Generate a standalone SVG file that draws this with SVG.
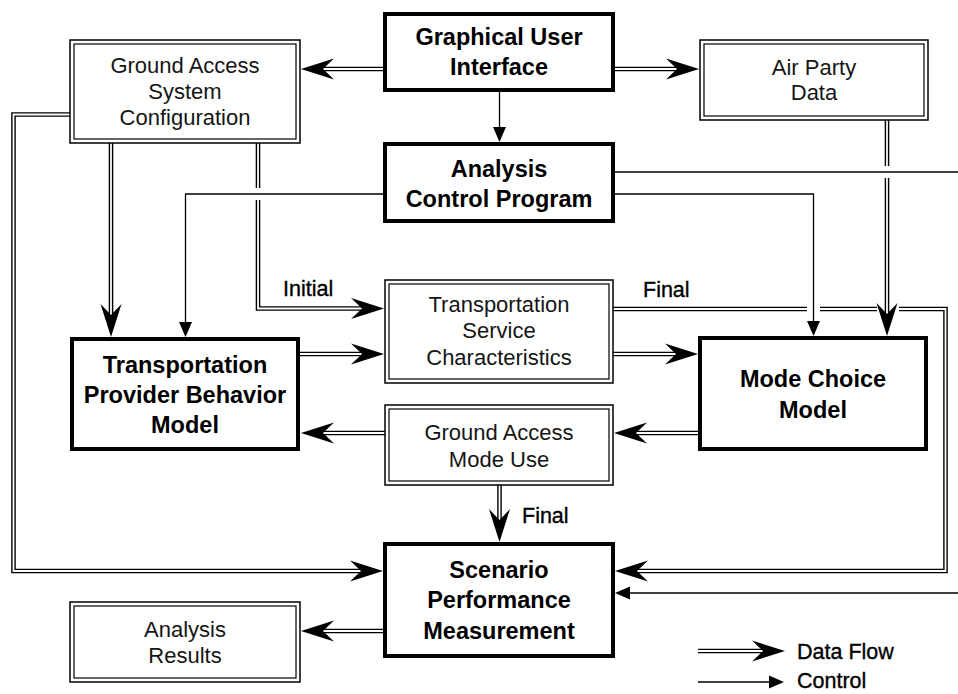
<svg xmlns="http://www.w3.org/2000/svg" xmlns:xlink="http://www.w3.org/1999/xlink" width="958" height="694" viewBox="0 0 958 694">
<style>
.dl{fill:none;stroke:#000;stroke-width:4.6;stroke-linejoin:miter}
.dw{fill:none;stroke:#fff;stroke-width:1.8;stroke-linejoin:miter}
.cl{fill:none;stroke:#000;stroke-width:1.3}
.bx{fill:#fff;stroke:#000;stroke-width:4}
.db{fill:#fff;stroke:#000;stroke-width:1.5}
.dbi{fill:none;stroke:#000;stroke-width:1.2}
text{font-family:"Liberation Sans",Arial,Helvetica,sans-serif}
.t{font-size:22px;text-anchor:middle;fill:#151515}
.tb{font-size:23.5px;font-weight:bold;text-anchor:middle;fill:#000}
.lb{font-size:21.5px;fill:#000;stroke:#000;stroke-width:0.35}
</style>
<defs>
<path id="ah" d="M0,0 L-33,-10.5 L-22,0 L-33,10.5 Z" fill="#000"/>
<path id="ch" d="M0,0 L-15,-6.5 L-15,6.5 Z" fill="#000"/>
</defs>
<rect width="958" height="694" fill="#fff"/>

<g id="connectors">
  <!-- GUI -> Ground Access System Configuration -->
  <path class="dl" d="M383,69 H321"/><path class="dw" d="M383,69 H321"/>
  <use href="#ah" transform="translate(301,69) rotate(180)"/>
  <!-- GUI -> Air Party Data -->
  <path class="dl" d="M615,69 H679"/><path class="dw" d="M615,69 H679"/>
  <use href="#ah" transform="translate(699,69)"/>
  <!-- GUI -> Analysis Control Program -->
  <path class="cl" d="M499.5,92 V130"/>
  <use href="#ch" transform="translate(499.5,142) rotate(90)"/>
  <!-- Air Party -> Mode Choice -->
  <path class="dl" d="M887,120 V166"/><path class="dw" d="M887,120 V166"/>
  <path class="dl" d="M887,178 V316"/><path class="dw" d="M887,178 V316"/>
  <use href="#ah" transform="translate(887,336) rotate(90)"/>
  <!-- ACP -> off right edge -> SPM -->
  <path class="cl" d="M615,172 H958"/>
  <path class="cl" d="M958,593 H628"/>
  <use href="#ch" transform="translate(615,593) rotate(180)"/>
  <!-- ACP -> Mode Choice -->
  <path class="cl" d="M615,194 H813.5 V322"/>
  <use href="#ch" transform="translate(813.5,336) rotate(90)"/>
  <!-- ACP -> Provider -->
  <path class="cl" d="M383,194 H185.5 V323"/>
  <use href="#ch" transform="translate(185.5,337) rotate(90)"/>
  <!-- GASC -> Provider -->
  <path class="dl" d="M111,143 V317"/><path class="dw" d="M111,143 V317"/>
  <use href="#ah" transform="translate(111,337) rotate(90)"/>
  <!-- GASC -> TSC (Initial) -->
  <path class="dl" d="M258,143 V188"/><path class="dw" d="M258,143 V188"/>
  <path class="dl" d="M258,200 V308.5 H363"/><path class="dw" d="M258,200 V308.5 H363"/>
  <use href="#ah" transform="translate(384,308.5)"/>
  <!-- GASC -> SPM -->
  <path class="dl" d="M70,114.5 H13.5 V571 H362"/><path class="dw" d="M70,114.5 H13.5 V571 H362"/>
  <use href="#ah" transform="translate(383,571)"/>
  <!-- Provider -> TSC -->
  <path class="dl" d="M300,354 H363"/><path class="dw" d="M300,354 H363"/>
  <use href="#ah" transform="translate(384,354)"/>
  <!-- TSC -> Mode Choice -->
  <path class="dl" d="M613,354 H678"/><path class="dw" d="M613,354 H678"/>
  <use href="#ah" transform="translate(698,354)"/>
  <!-- TSC -> SPM (Final) -->
  <path class="dl" d="M613,309 H807"/><path class="dw" d="M613,309 H807"/>
  <path class="dl" d="M820,309 H877"/><path class="dw" d="M820,309 H877"/>
  <path class="dl" d="M899,309 H945.5 V571 H636"/><path class="dw" d="M899,309 H945.5 V571 H636"/>
  <use href="#ah" transform="translate(615,571) rotate(180)"/>
  <!-- Mode Choice -> GAMU -->
  <path class="dl" d="M698,433 H634"/><path class="dw" d="M698,433 H634"/>
  <use href="#ah" transform="translate(614,433) rotate(180)"/>
  <!-- GAMU -> Provider -->
  <path class="dl" d="M385,433 H321"/><path class="dw" d="M385,433 H321"/>
  <use href="#ah" transform="translate(301,433) rotate(180)"/>
  <!-- GAMU -> SPM (Final) -->
  <path class="dl" d="M499.5,485 V522"/><path class="dw" d="M499.5,485 V522"/>
  <use href="#ah" transform="translate(499.5,542) rotate(90)"/>
  <!-- SPM -> Analysis Results -->
  <path class="dl" d="M383,631 H321"/><path class="dw" d="M383,631 H321"/>
  <use href="#ah" transform="translate(301,631) rotate(180)"/>
  <!-- labels -->
  <text class="lb" x="283" y="296">Initial</text>
  <text class="lb" x="643" y="297">Final</text>
  <text class="lb" x="522" y="523">Final</text>
</g>

<g id="gui">
  <rect class="bx" x="385" y="14" width="228" height="76"/>
  <text class="tb" x="499" y="45">Graphical User</text>
  <text class="tb" x="499" y="75">Interface</text>
</g>
<g id="acp">
  <rect class="bx" x="385" y="144" width="228" height="77"/>
  <text class="tb" x="499" y="177">Analysis</text>
  <text class="tb" x="499" y="207">Control Program</text>
</g>
<g id="gasc">
  <rect class="db" x="70" y="40" width="230" height="103"/>
  <rect class="dbi" x="74" y="44" width="222" height="95"/>
  <text class="t" x="185" y="73">Ground Access</text>
  <text class="t" x="185" y="99">System</text>
  <text class="t" x="185" y="125">Configuration</text>
</g>
<g id="airparty">
  <rect class="db" x="700" y="40" width="228" height="80"/>
  <rect class="dbi" x="704" y="44" width="220" height="72"/>
  <text class="t" x="814" y="75">Air Party</text>
  <text class="t" x="814" y="100">Data</text>
</g>
<g id="provider">
  <rect class="bx" x="72" y="339" width="226" height="110"/>
  <text class="tb" x="185" y="373">Transportation</text>
  <text class="tb" x="185" y="403">Provider Behavior</text>
  <text class="tb" x="185" y="433">Model</text>
</g>
<g id="tsc">
  <rect class="db" x="385" y="280" width="228" height="103"/>
  <rect class="dbi" x="389" y="284" width="220" height="95"/>
  <text class="t" x="499" y="312">Transportation</text>
  <text class="t" x="499" y="338">Service</text>
  <text class="t" x="499" y="365">Characteristics</text>
</g>
<g id="modechoice">
  <rect class="bx" x="700" y="338" width="226" height="111"/>
  <text class="tb" x="813" y="387">Mode Choice</text>
  <text class="tb" x="813" y="418">Model</text>
</g>
<g id="gamu">
  <rect class="db" x="385" y="405" width="228" height="80"/>
  <rect class="dbi" x="389" y="409" width="220" height="72"/>
  <text class="t" x="499" y="440">Ground Access</text>
  <text class="t" x="499" y="467">Mode Use</text>
</g>
<g id="spm">
  <rect class="bx" x="385" y="544" width="228" height="112"/>
  <text class="tb" x="499" y="578">Scenario</text>
  <text class="tb" x="499" y="608">Performance</text>
  <text class="tb" x="499" y="639">Measurement</text>
</g>
<g id="results">
  <rect class="db" x="70" y="602" width="230" height="80"/>
  <rect class="dbi" x="74" y="606" width="222" height="72"/>
  <text class="t" x="185" y="637">Analysis</text>
  <text class="t" x="185" y="663">Results</text>
</g>
<g id="legend">
  <path class="dl" d="M698,651 H765"/><path class="dw" d="M698,651 H765"/>
  <use href="#ah" transform="translate(785,651)"/>
  <text class="lb" x="797" y="659">Data Flow</text>
  <path class="cl" d="M698,682 H770"/>
  <use href="#ch" transform="translate(784,682)"/>
  <text class="lb" x="797" y="688">Control</text>
</g>
</svg>
